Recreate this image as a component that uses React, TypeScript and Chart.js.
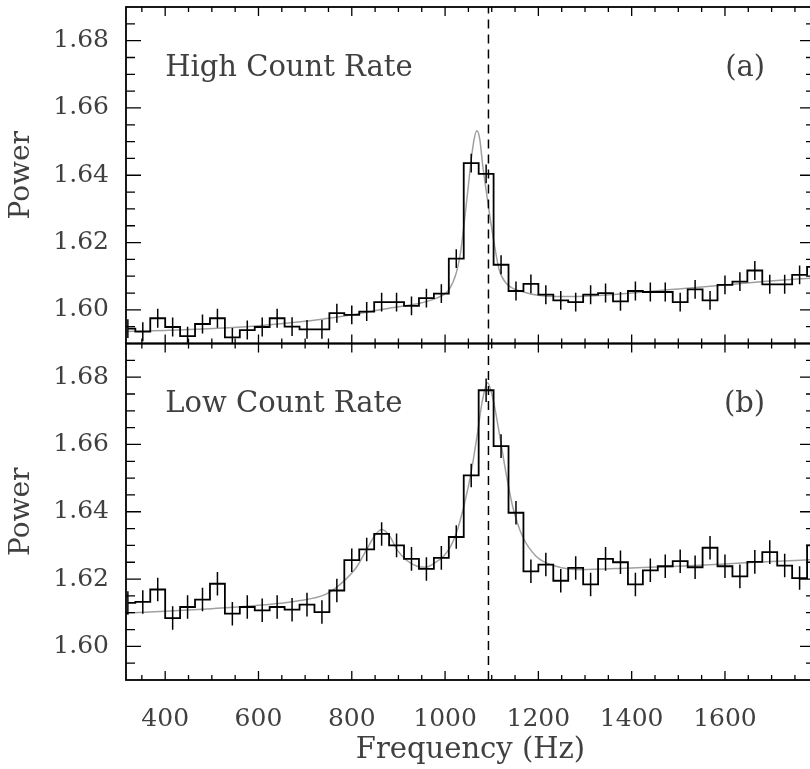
import React, { useEffect, useRef } from "react";
import { Chart, registerables } from "chart.js";

Chart.register(...registerables);

// ---------- data ----------
const BIN_FREQ = [
  320, 352, 384, 416, 448, 480, 512, 544, 576, 608,
  640, 672, 704, 736, 768, 800, 832, 864, 896, 928,
  960, 992, 1024, 1056, 1088, 1120, 1152, 1184, 1216, 1248,
  1280, 1312, 1344, 1376, 1408, 1440, 1472, 1504, 1536, 1568,
  1600, 1632, 1664, 1696, 1728, 1760, 1792,
];

const HIGH_POWER = [
  1.5944, 1.5935, 1.5975, 1.5949, 1.5922, 1.5958, 1.5975, 1.5918, 1.594, 1.5949,
  1.5975, 1.595, 1.5942, 1.5942, 1.599, 1.5985, 1.5995, 1.6023, 1.6023, 1.6012,
  1.6035, 1.6048, 1.6152, 1.6436, 1.6404, 1.6134, 1.6056, 1.6077, 1.6045, 1.6028,
  1.6023, 1.6045, 1.605, 1.6025, 1.6056, 1.6053, 1.6053, 1.6023, 1.6061, 1.6028,
  1.6074, 1.6084, 1.6117, 1.6076, 1.6076, 1.6104, 1.6128,
];

const LOW_POWER = [
  1.6129, 1.6132, 1.6169, 1.6084, 1.6117, 1.6139, 1.6186, 1.6097, 1.6117, 1.6107,
  1.6117, 1.6109, 1.6124, 1.6102, 1.6166, 1.6256, 1.6288, 1.6334, 1.63, 1.626,
  1.623, 1.6263, 1.6325, 1.6508, 1.6761, 1.6595, 1.6397, 1.6223, 1.6243, 1.6195,
  1.6233, 1.6184, 1.626, 1.625, 1.6184, 1.6226, 1.6238, 1.6253, 1.6235, 1.6293,
  1.6238, 1.6208, 1.6251, 1.628, 1.624, 1.6203, 1.63,
];

const HIGH_ERR = 0.0028;
const LOW_ERR = 0.0035;

const FIT_HIGH_FREQ = [
  316, 400, 480, 600, 700, 750, 810, 880, 950, 990, 1008, 1024, 1034, 1041, 1049,
  1056, 1062, 1068, 1074, 1081, 1093, 1104, 1116, 1131, 1166, 1238, 1276, 1330,
  1432, 1500, 1575, 1682, 1793,
];
const FIT_HIGH_POWER = [
  1.5936, 1.5939, 1.5943, 1.5953, 1.5966, 1.5975, 1.5988, 1.6005, 1.6021, 1.604,
  1.6059, 1.611, 1.6178, 1.6259, 1.6357, 1.6446, 1.6505, 1.6532, 1.651, 1.6426,
  1.6307, 1.6208, 1.6119, 1.6079, 1.6054, 1.604, 1.604, 1.6043, 1.6054, 1.6062,
  1.6071, 1.6084, 1.6095,
];

const FIT_LOW_FREQ = [
  316, 400, 500, 600, 680, 745, 780, 810, 832, 850, 864, 880, 898, 918, 940, 958,
  978, 998, 1012, 1025, 1040, 1055, 1068, 1080, 1091, 1102, 1116, 1130, 1145,
  1166, 1195, 1238, 1290, 1400, 1500, 1600, 1700, 1793,
];
const FIT_LOW_POWER = [
  1.6099, 1.6104, 1.6112, 1.6122, 1.6134, 1.6155, 1.619, 1.6235, 1.6288, 1.633,
  1.6347, 1.633, 1.6285, 1.6255, 1.6238, 1.6235, 1.6248, 1.627, 1.6297, 1.634,
  1.6415, 1.651, 1.662, 1.673, 1.6783, 1.674, 1.6635, 1.652, 1.6415, 1.6327,
  1.6268, 1.6238, 1.6228, 1.6233, 1.6238, 1.6245, 1.6252, 1.6258,
];

const DASH_FREQ = 1093;

const X_MIN = 316;
const X_MAX = 1793;
const Y_MIN = 1.59;
const Y_MAX = 1.69;
const X_TICKS = [400, 600, 800, 1000, 1200, 1400, 1600];
const Y_TICKS = [1.6, 1.62, 1.64, 1.66, 1.68];

const PANEL_LABELS = ["High Count Rate", "Low Count Rate"];
const PANEL_TAGS = ["(a)", "(b)"];
const LABEL_FREQ = 400;
const TAG_FREQ = 1686;
const LABEL_POWER = 1.6695;

// ---------- styling ----------
const TEXT = "#404040";
const SERIF = "'DejaVu Serif', 'Liberation Serif', serif";

const xy = (xs: number[], ys: number[]) => xs.map((x, i) => ({ x, y: ys[i] }));

const errorBars = (xs: number[], ys: number[], e: number) => {
  const pts: any[] = [];
  xs.forEach((x, i) => {
    pts.push({ x, y: ys[i] - e }, { x, y: ys[i] + e }, { x, y: null });
  });
  return pts;
};

const panelDatasets = (axis: string, power: number[], err: number, fx: number[], fy: number[]) => [
  {
    data: xy(fx, fy),
    yAxisID: axis,
    borderColor: "#a0a0a0",
    borderWidth: 1.5,
    pointRadius: 0,
    cubicInterpolationMode: "monotone",
    order: 4,
  },
  {
    data: xy(BIN_FREQ, power),
    yAxisID: axis,
    borderColor: "#000",
    borderWidth: 1.8,
    pointRadius: 0,
    stepped: "middle",
    order: 2,
  },
  {
    data: errorBars(BIN_FREQ, power, err),
    yAxisID: axis,
    borderColor: "#000",
    borderWidth: 1.5,
    pointRadius: 0,
    spanGaps: false,
    order: 1,
  },
  {
    data: [
      { x: DASH_FREQ, y: Y_MIN },
      { x: DASH_FREQ, y: Y_MAX },
    ],
    yAxisID: axis,
    borderColor: "#000",
    borderWidth: 1.5,
    borderDash: [9, 6],
    pointRadius: 0,
    order: 3,
  },
];

const framePlugin = {
  id: "frameTicks",
  afterDraw(chart: any) {
    const ctx = chart.ctx;
    const xs = chart.scales.x;
    ["yTop", "yBot"].forEach((id, p) => {
      const ys = chart.scales[id];
      const L = xs.left;
      const R = xs.right;
      const T = ys.top;
      const B = ys.bottom;
      ctx.save();
      ctx.strokeStyle = "#000";
      ctx.lineWidth = 1.8;
      ctx.strokeRect(L, T, R - L, B - T);
      ctx.lineWidth = 1.3;
      ctx.beginPath();
      for (let k = 1; k < 20; k++) {
        const v = Y_MIN + k * 0.005;
        const py = ys.getPixelForValue(v);
        const major = Math.round(v * 1000) % 20 === 0;
        const len = major ? 15 : 9;
        ctx.moveTo(L, py);
        ctx.lineTo(L + len, py);
        ctx.moveTo(R, py);
        ctx.lineTo(R - len, py);
      }
      for (let f = Math.ceil(X_MIN / 50) * 50; f <= X_MAX; f += 50) {
        const px = xs.getPixelForValue(f);
        const major = f % 200 === 0;
        const len = major ? 9 : 5;
        ctx.moveTo(px, T);
        ctx.lineTo(px, T + len);
        ctx.moveTo(px, B);
        ctx.lineTo(px, B - len);
      }
      ctx.stroke();

      ctx.fillStyle = TEXT;
      ctx.font = `29px ${SERIF}`;
      ctx.textBaseline = "alphabetic";
      ctx.textAlign = "left";
      ctx.fillText(PANEL_LABELS[p], xs.getPixelForValue(LABEL_FREQ), ys.getPixelForValue(LABEL_POWER));
      ctx.textAlign = "right";
      ctx.fillText(PANEL_TAGS[p], xs.getPixelForValue(TAG_FREQ), ys.getPixelForValue(LABEL_POWER));
      ctx.restore();
    });
  },
};

const yAxis = () => ({
  type: "linear",
  position: "left",
  stack: "panels",
  stackWeight: 1,
  min: Y_MIN,
  max: Y_MAX,
  afterBuildTicks: (axis: any) => {
    axis.ticks = Y_TICKS.map((v) => ({ value: v }));
  },
  afterFit: (axis: any) => {
    axis.width = 126;
    axis.paddingTop = 0;
    axis.paddingBottom = 0;
  },
  grid: { display: false },
  border: { display: false },
  ticks: {
    padding: 9,
    color: TEXT,
    font: { family: SERIF, size: 25 },
    callback: (v: any) => Number(v).toFixed(2),
  },
  title: {
    display: true,
    text: "Power",
    color: TEXT,
    font: { family: SERIF, size: 28 },
    padding: { top: 5, bottom: 0 },
  },
});

export default function App() {
  const ref = useRef<HTMLCanvasElement | null>(null);

  useEffect(() => {
    if (!ref.current) return;
    const chart = new Chart(ref.current, {
      type: "line",
      data: {
        datasets: [
          ...panelDatasets("yTop", HIGH_POWER, HIGH_ERR, FIT_HIGH_FREQ, FIT_HIGH_POWER),
          ...panelDatasets("yBot", LOW_POWER, LOW_ERR, FIT_LOW_FREQ, FIT_LOW_POWER),
        ] as any,
      },
      options: {
        animation: false,
        responsive: false,
        devicePixelRatio: 1,
        events: [],
        layout: { padding: { top: 7, right: 15, left: 0, bottom: 0 } },
        plugins: { legend: { display: false }, tooltip: { enabled: false } },
        scales: {
          x: {
            type: "linear",
            min: X_MIN,
            max: X_MAX,
            afterBuildTicks: (axis: any) => {
              axis.ticks = X_TICKS.map((v) => ({ value: v }));
            },
            afterFit: (axis: any) => {
              axis.height = 89;
              axis.paddingLeft = 0;
              axis.paddingRight = 0;
            },
            grid: { display: false },
            border: { display: false },
            ticks: {
              padding: 16,
              color: TEXT,
              font: { family: SERIF, size: 25 },
              maxRotation: 0,
              callback: (v: any) => String(v),
            },
            title: {
              display: true,
              text: "Frequency (Hz)",
              color: TEXT,
              font: { family: SERIF, size: 29 },
              padding: { top: 0, bottom: 1 },
            },
          },
          yBot: yAxis(),
          yTop: yAxis(),
        } as any,
      },
      plugins: [framePlugin],
    });
    return () => chart.destroy();
  }, []);

  return (
    <div style={{ position: "fixed", left: 0, top: 0, width: 830, height: 769, background: "#fff" }}>
      <canvas ref={ref} width={830} height={769} style={{ width: 830, height: 769, display: "block" }} />
    </div>
  );
}
